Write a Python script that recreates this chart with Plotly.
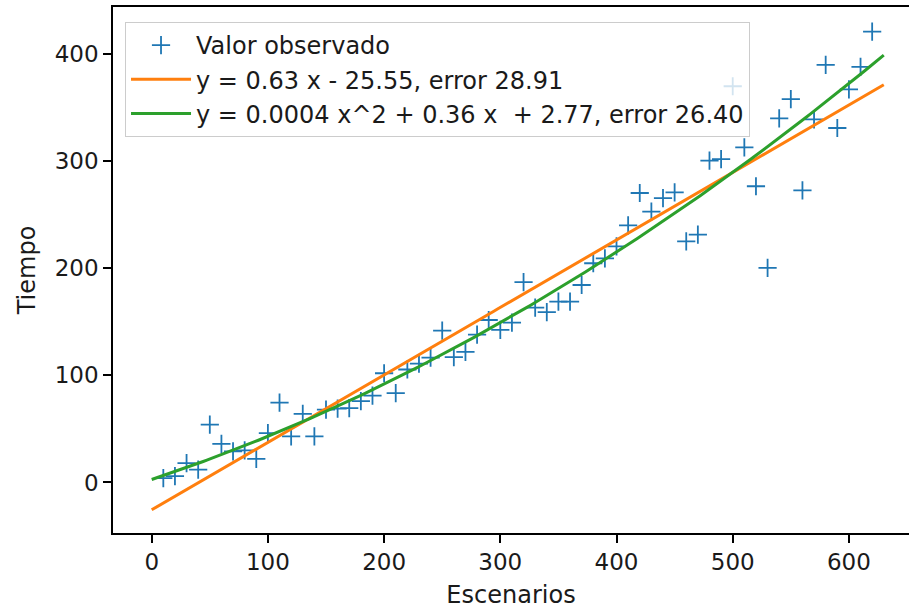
import numpy as np
import plotly.graph_objects as go

# Observed data: scenarios (x) vs time (y)
escenarios = [10, 20, 30, 40, 50, 60, 70, 80, 90, 100,
              110, 120, 130, 140, 150, 160, 170, 180, 190, 200,
              210, 220, 230, 240, 250, 260, 270, 280, 290, 300,
              310, 320, 330, 340, 350, 360, 370, 380, 390, 400,
              410, 420, 430, 440, 450, 460, 470, 480, 490, 500,
              510, 520, 530, 540, 550, 560, 570, 580, 590, 600,
              610, 620]
tiempo = [4, 6, 18, 12, 54, 36, 29, 30, 22, 46,
          74.5, 43, 64, 43, 68, 69, 69.5, 76, 81, 102,
          83.5, 105.5, 111, 116.5, 141.7, 117, 122, 138, 151.7, 142.4,
          149.2, 187, 163.2, 159, 168.8, 168.8, 184.4, 204.7, 209.3, 220.5,
          240, 270.3, 253, 265.5, 270.8, 225.2, 231.4, 300.5, 302, 370,
          313, 276.6, 200.3, 340, 358, 272.8, 339, 390, 331, 367,
          388, 421]

# Fitted models (highest degree first)
lin_coef = [0.63, -25.55]
quad_coef = [0.000427, 0.36, 2.77]
fit_x_range = [0, 630]

obs_name = "Valor observado"
lin_name = "y = 0.63 x - 25.55, error 28.91"
quad_name = "y = 0.0004 x^2 + 0.36 x \u00a0+ 2.77, error 26.40"

x_ticks = [0, 100, 200, 300, 400, 500, 600]
y_ticks = [0, 100, 200, 300, 400]

fit_x = np.linspace(fit_x_range[0], fit_x_range[1], 200)
lin_y = np.polyval(lin_coef, fit_x)
quad_y = np.polyval(quad_coef, fit_x)

FONT = "DejaVu Sans"
FS = 23
LFS = 24

fig = go.Figure()
fig.add_trace(go.Scatter(
    x=escenarios, y=tiempo, mode="markers", name=obs_name,
    legendgroup="a",
    marker=dict(symbol="cross-thin", size=13, color="#1f77b4",
                line=dict(width=1.8, color="#1f77b4")),
))
fig.add_trace(go.Scatter(
    x=fit_x, y=lin_y, mode="lines", name=lin_name, legendgroup="b",
    line=dict(color="#ff7f0e", width=3),
))
fig.add_trace(go.Scatter(
    x=fit_x, y=quad_y, mode="lines", name=quad_name, legendgroup="c",
    line=dict(color="#2ca02c", width=3),
))

axis_common = dict(
    showgrid=False, zeroline=False, showline=True, linecolor="#000000",
    linewidth=1.5, ticks="outside", ticklen=8, tickwidth=1.5,
    tickcolor="#000000", tickfont=dict(family=FONT, size=FS, color="#1a1a1a"),
)

fig.update_layout(
    width=909, height=609,
    margin=dict(l=113, r=0, t=7, b=76),
    paper_bgcolor="white", plot_bgcolor="white",
    font=dict(family=FONT, size=FS, color="#1a1a1a"),
    xaxis=dict(range=[-33.3, 651.7], tickvals=x_ticks, mirror=True,
               title=dict(text="Escenarios", font=dict(family=FONT, size=LFS), standoff=14),
               **axis_common),
    yaxis=dict(range=[-47.2, 444.0], tickvals=y_ticks,
               title=dict(text="Tiempo", font=dict(family=FONT, size=LFS), standoff=12),
               **axis_common),
    legend=dict(x=0.0151, y=0.9715, xanchor="left", yanchor="top",
                bgcolor="rgba(255,255,255,0.8)", bordercolor="#cccccc",
                borderwidth=1, font=dict(family=FONT, size=LFS, color="#1a1a1a"),
                traceorder="grouped", tracegroupgap=0, itemwidth=60),
    showlegend=True,
)

fig.write_html("out.html")
